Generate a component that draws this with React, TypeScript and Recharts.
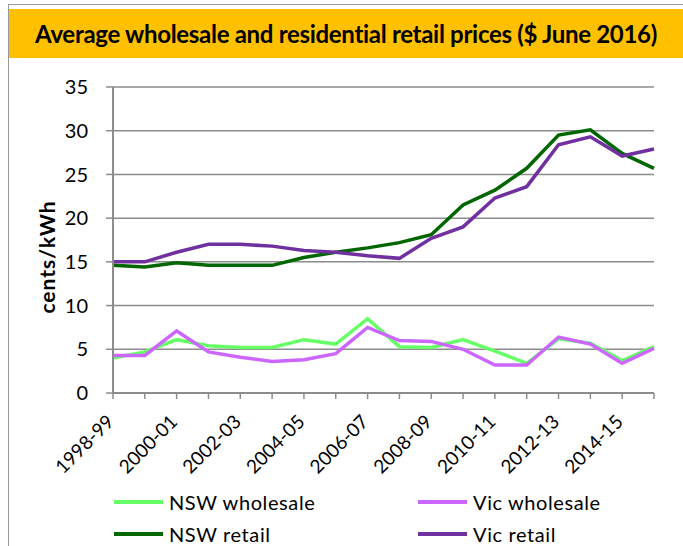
import React from 'react';
import { LineChart, Line, XAxis, YAxis, CartesianGrid } from 'recharts';

const categories = ['1998-99', '1999-00', '2000-01', '2001-02', '2002-03', '2003-04', '2004-05', '2005-06', '2006-07', '2007-08', '2008-09', '2009-10', '2010-11', '2011-12', '2012-13', '2013-14', '2014-15', '2015-16'];
const nswWholesale = [4.0, 4.7, 6.1, 5.4, 5.2, 5.2, 6.1, 5.6, 8.5, 5.3, 5.2, 6.1, 4.8, 3.4, 6.2, 5.7, 3.7, 5.3];
const vicWholesale = [4.3, 4.3, 7.1, 4.7, 4.1, 3.6, 3.8, 4.5, 7.5, 6.0, 5.9, 5.0, 3.2, 3.2, 6.4, 5.6, 3.4, 5.1];
const nswRetail = [14.6, 14.4, 14.9, 14.6, 14.6, 14.6, 15.5, 16.1, 16.6, 17.2, 18.1, 21.5, 23.2, 25.7, 29.5, 30.1, 27.4, 25.7];
const vicRetail = [15.0, 15.0, 16.1, 17.0, 17.0, 16.8, 16.3, 16.1, 15.7, 15.4, 17.7, 19.0, 22.3, 23.6, 28.4, 29.3, 27.1, 27.9];
const yTicks = [0, 5, 10, 15, 20, 25, 30, 35];

const series = [
  { key: 'nswW', name: 'NSW wholesale', values: nswWholesale, color: '#66FF66' },
  { key: 'vicW', name: 'Vic wholesale', values: vicWholesale, color: '#CC66FF' },
  { key: 'nswR', name: 'NSW retail', values: nswRetail, color: '#006600' },
  { key: 'vicR', name: 'Vic retail', values: vicRetail, color: '#7030A0' },
];

const data = categories.map((c, i) => {
  const row: any = { year: c };
  series.forEach((s) => { row[s.key] = s.values[i]; });
  return row;
});

const FONT = 'Lato, "Open Sans", sans-serif';
const GRAY = '#8c8c8c';

const XTick = (props: any) => {
  const { x, y, payload } = props;
  const idx = categories.indexOf(payload.value);
  if (idx % 2 !== 0) return <g />;
  return (
    <g transform={`translate(${x + 2},${y + 22})`}>
      <text x={0} y={0} textAnchor="end" transform="rotate(-45)" fontSize={19} fontFamily={FONT} fill="#000">
        {payload.value}
      </text>
    </g>
  );
};

const legendOrder = [
  [series[0], series[1]],
  [series[2], series[3]],
];

export default function App() {
  return (
    <div style={{ position: 'absolute', left: 0, top: 0, width: 683, height: 546, background: '#fff', fontFamily: FONT, overflow: 'hidden' }}>
      <div style={{ position: 'absolute', left: 8, top: 4, width: 700, height: 560, borderLeft: '1.5px solid #9a9a9a', borderTop: '1.5px solid #9a9a9a' }} />
      <div style={{ position: 'absolute', left: 9, top: 9, width: 674, height: 49, background: '#FFC000' }} />
      <div style={{ position: 'absolute', left: 9, top: 9, width: 674, height: 49, display: 'flex', alignItems: 'center', justifyContent: 'center', fontWeight: 700, fontSize: 24, color: '#000', whiteSpace: 'nowrap', letterSpacing: -0.3 }}>
        Average wholesale and residential retail prices ($ June 2016)
      </div>
      <div style={{ position: 'absolute', left: 0, top: 0 }}>
        <LineChart width={683} height={546} data={data} margin={{ top: 87, right: 29, left: 53, bottom: 93 }}>
          <CartesianGrid vertical={false} stroke={GRAY} strokeWidth={1.5} />
          <XAxis
            dataKey="year"
            interval={0}
            tick={<XTick />}
            tickSize={6}
            height={60}
            axisLine={{ stroke: GRAY, strokeWidth: 2 }}
            tickLine={{ stroke: GRAY, strokeWidth: 1.5 }}
          />
          <YAxis
            domain={[0, 35]}
            ticks={yTicks}
            width={60}
            tickSize={7}
            tickMargin={18}
            tick={{ fontSize: 20, fill: '#000', fontFamily: FONT }}
            axisLine={{ stroke: GRAY, strokeWidth: 2 }}
            tickLine={{ stroke: GRAY, strokeWidth: 1.5 }}
            label={(p: any) => (
              <text x={46} y={257} transform="rotate(-90, 46, 257)" textAnchor="middle" dominantBaseline="central" fontSize={21} fontWeight={700} letterSpacing={1} fontFamily={FONT} fill="#000">
                cents/kWh
              </text>
            )}
          />
          {series.map((s) => (
            <Line key={s.key} dataKey={s.key} name={s.name} type="linear" stroke={s.color} strokeWidth={3.5} dot={false} activeDot={false} isAnimationActive={false} />
          ))}
        </LineChart>
      </div>
      {legendOrder.map((row, r) =>
        row.map((s, c) => (
          <div key={s.key} style={{ position: 'absolute', left: c === 0 ? 114 : 418, top: r === 0 ? 489 : 521, height: 26, display: 'flex', alignItems: 'center', fontSize: 20, letterSpacing: 0.6, color: '#000', whiteSpace: 'nowrap' }}>
            <div style={{ width: 49, height: 4, background: s.color, marginRight: 6 }} />
            {s.name}
          </div>
        ))
      )}
    </div>
  );
}
